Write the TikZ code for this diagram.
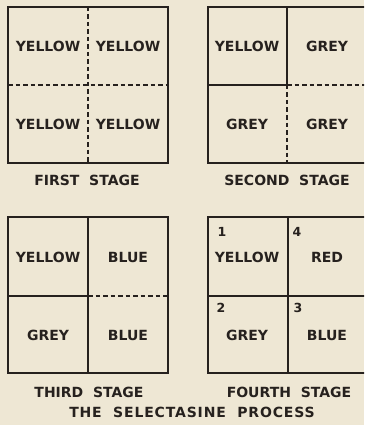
\documentclass[tikz,border=0pt]{standalone}
\usepackage{fontspec}
\setmainfont{DejaVu Sans}
\newfontfamily\widefont[LetterSpace=6]{DejaVu Sans}

\definecolor{paper}{RGB}{238,231,212}
\definecolor{ink}{RGB}{38,33,30}

\tikzset{
  colour/.style={font=\bfseries\fontsize{14}{16}\selectfont, text=ink},
  number/.style={font=\bfseries\fontsize{12.5}{14}\selectfont, text=ink},
  stagename/.style={font=\bfseries\fontsize{14}{16}\selectfont, text=ink},
  wall/.style={draw=ink, line width=2pt},
  seam/.style={draw=ink, line width=1.7pt, dash pattern=on 4.5pt off 3pt},
}

\begin{document}
\begin{tikzpicture}[x=1pt, y=-1pt]
        % paper
        \fill[paper] (0,0) rectangle (364,425);
        \clip (0,0) rectangle (364,425);
        
        % outer frames of the four squares
        \foreach \gx/\gy in {8/7, 208/7, 8/217, 208/217} {
            \draw[wall] (\gx,\gy) rectangle ++(160,156);
        }
        
        % first stage: both seams dashed
        \draw[seam] (88,7) -- (88,163);
        \draw[seam] (8,85) -- (168,85);
        
        % second stage
        \draw[wall] (287,7) -- (287,85);
        \draw[seam] (287,85) -- (287,163);
        \draw[wall] (208,85) -- (287,85);
        \draw[seam] (287,85) -- (368,85);
        
        % third stage
        \draw[wall] (88,217) -- (88,373);
        \draw[wall] (8,296) -- (88,296);
        \draw[seam] (88,296) -- (168,296);
        
        % fourth stage
        \draw[wall] (288,217) -- (288,373);
        \draw[wall] (208,296) -- (368,296);
        
        % colours of the cells
        \node[colour] (first-a) at (48,46) {YELLOW};
        \node[colour] (first-b) at (128,46) {YELLOW};
        \node[colour] (first-c) at (48,124) {YELLOW};
        \node[colour] (first-d) at (128,124) {YELLOW};
        
        \node[colour] (second-a) at (247,46) {YELLOW};
        \node[colour] (second-b) at (327,46) {GREY};
        \node[colour] (second-c) at (247,124) {GREY};
        \node[colour] (second-d) at (327,124) {GREY};
        
        \node[colour] (third-a) at (48,257) {YELLOW};
        \node[colour] (third-b) at (128,257) {BLUE};
        \node[colour] (third-c) at (48,335) {GREY};
        \node[colour] (third-d) at (128,335) {BLUE};
        
        \node[colour] (fourth-a) at (247,257) {YELLOW};
        \node[colour] (fourth-b) at (327,257) {RED};
        \node[colour] (fourth-c) at (247,335) {GREY};
        \node[colour] (fourth-d) at (327,335) {BLUE};
        
        % numbers of the fourth stage
        \node[number] (num-1) at (222,232) {1};
        \node[number] (num-4) at (297,232) {4};
        \node[number] (num-2) at (221,308) {2};
        \node[number] (num-3) at (298,308) {3};
        
        % captions
        \node[stagename] (cap-first) at (87,180) {FIRST\ \ STAGE};
        \node[stagename] (cap-second) at (287,180) {SECOND\ \ STAGE};
        \node[stagename] (cap-third) at (89,392) {THIRD\ \ STAGE};
        \node[stagename] (cap-fourth) at (289,392) {FOURTH\ \ STAGE};
        \node[stagename, font=\widefont\bfseries\fontsize{14}{16}\selectfont] (title) at (192,412) {THE\ \ SELECTASINE\ \ PROCESS};
        
    \end{tikzpicture}
\end{document}
